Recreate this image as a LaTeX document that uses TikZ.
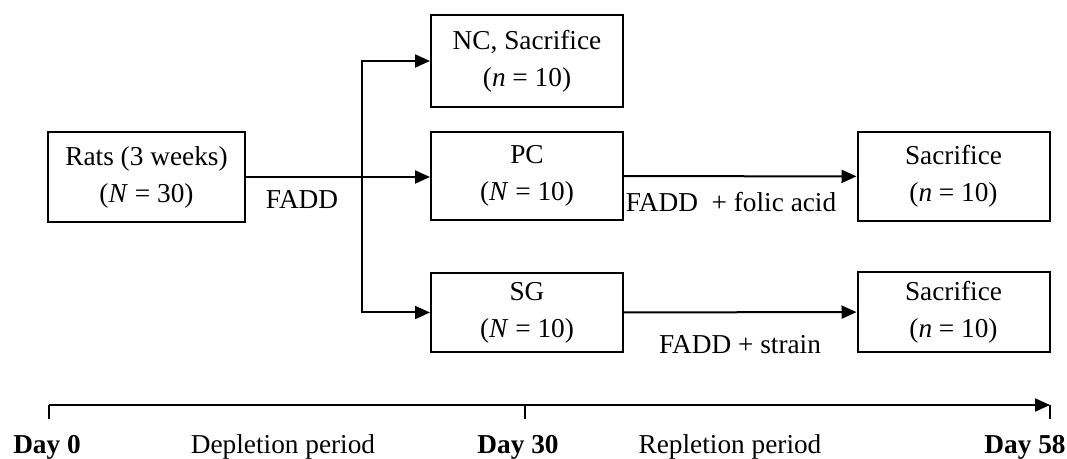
\documentclass[tikz,border=0pt]{standalone}
\usepackage{fontspec}
\setmainfont{Liberation Serif}
\usetikzlibrary{arrows.meta}

\begin{document}
\begin{tikzpicture}[x=0.5pt,y=-0.5pt]

\tikzset{box/.style = {shape=rectangle,draw,line width=1pt,align=center,inner sep=0pt,minimum width=96pt,font=\fontsize{13.65}{18.5}\selectfont}}
\tikzset{edge/.style = {-{Triangle[length=7.5pt,width=6.5pt]},line width=1pt}}
\tikzset{txt/.style = {inner sep=0pt,font=\fontsize{13.65}{18.5}\selectfont}}
\useasboundingbox (0,0) rectangle (1067,459);
%boxes
\node[box, minimum width=98.5pt, minimum height=45pt] (rats) at (146.5,177) {Rats (3 weeks)\\(\textit{N} = 30)};
\node[box, minimum height=46pt] (nc) at (527,61) {NC, Sacrifice\\(\textit{n} = 10)};
\node[box, minimum height=44pt] (pc) at (527,176) {PC\\(\textit{N} = 10)};
\node[box, minimum height=39.5pt] (sg) at (527,312.5) {SG\\(\textit{N} = 10)};
\node[box, minimum height=44.5pt] (sac1) at (953.5,176.5) {Sacrifice\\(\textit{n} = 10)};
\node[box, minimum height=40pt] (sac2) at (953.5,312) {Sacrifice\\(\textit{n} = 10)};
\coordinate (split) at (362,177);
%edges
\draw [line width=1pt] (rats.east |- split) -- (split);
\draw [edge] (split) -- (pc.west |- split);
\draw [edge] (split) |- (nc.west);
\draw [edge] (split) |- (sg.west);
\draw [edge] (pc) -- (sac1);
\draw [edge] (sg) -- (sac2);
\node[txt] (fadd) at (302,200) {FADD};
\node[txt] (folic) at (731,202) {FADD~ + folic acid};
\node[txt] (strain) at (740,345) {FADD + strain};
%timeline
\coordinate (t0) at (49,405);
\coordinate (t30) at (525,405);
\coordinate (t58) at (1050,405);
\draw [edge] (t0) -- (t58);
\foreach \t in {t0,t30,t58}
  \draw [line width=1pt] (\t) -- ++(0,14);
\node[txt, font=\fontsize{13.65}{18.5}\selectfont\bfseries] (day0) at (47,447) {Day 0};
\node[txt] (deplete) at (283,447) {Depletion period};
\node[txt, font=\fontsize{13.65}{18.5}\selectfont\bfseries] (day30) at (518,447) {Day 30};
\node[txt] (replete) at (730,447) {Repletion period};
\node[txt, font=\fontsize{13.65}{18.5}\selectfont\bfseries] (day58) at (1025,447) {Day 58};

\end{tikzpicture}
\end{document}
